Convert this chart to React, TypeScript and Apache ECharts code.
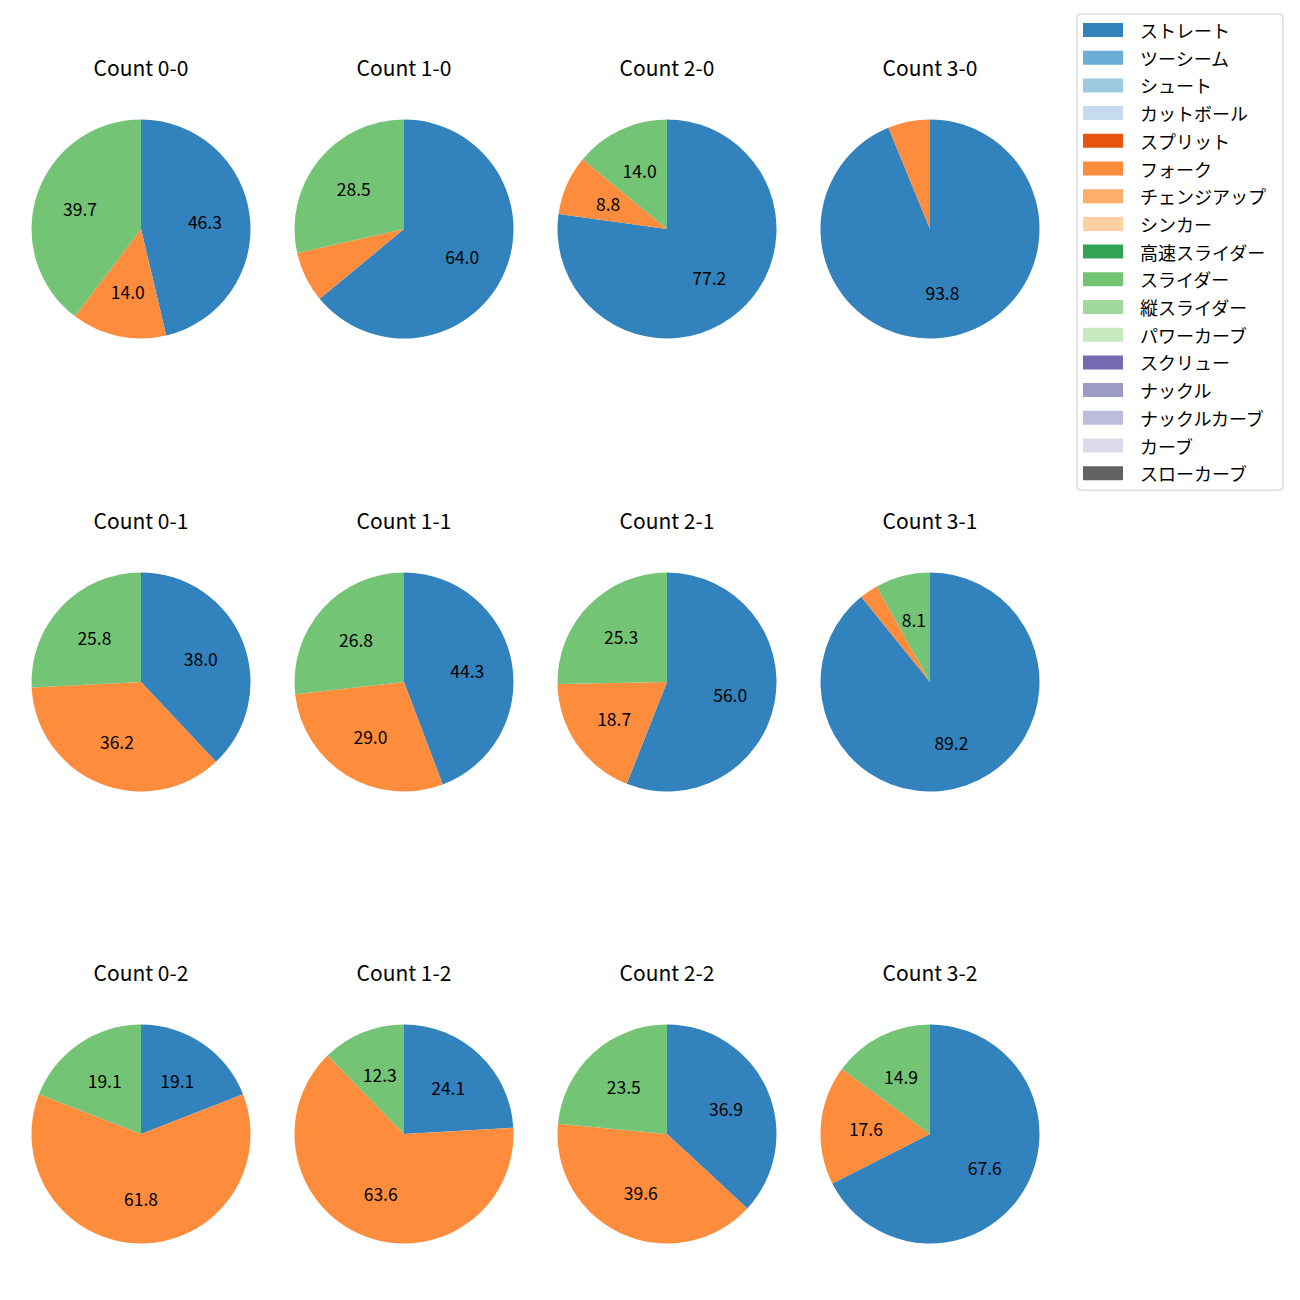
import React, { useEffect, useRef } from "react";
import * as echarts from "echarts";

const pitchTypes = [
  "ストレート", "ツーシーム", "シュート", "カットボール", "スプリット", "フォーク",
  "チェンジアップ", "シンカー", "高速スライダー", "スライダー", "縦スライダー",
  "パワーカーブ", "スクリュー", "ナックル", "ナックルカーブ", "カーブ", "スローカーブ",
];
const pitchColors = [
  "#3182bd", "#6baed6", "#9ecae1", "#c6dbef", "#e6550d", "#fd8d3c",
  "#fdae6b", "#fdd0a2", "#31a354", "#74c476", "#a1d99b", "#c7e9c0",
  "#756bb1", "#9e9ac8", "#bcbddc", "#dadaeb", "#636363",
];

// Present pitch types in each pie: ストレート, フォーク, スライダー
const shownTypes = ["ストレート", "フォーク", "スライダー"];

const countTitles = [
  "Count 0-0", "Count 1-0", "Count 2-0", "Count 3-0",
  "Count 0-1", "Count 1-1", "Count 2-1", "Count 3-1",
  "Count 0-2", "Count 1-2", "Count 2-2", "Count 3-2",
];
const straightVals = [46.3, 64.0, 77.2, 93.8, 38.0, 44.3, 56.0, 89.2, 19.1, 24.1, 36.9, 67.6];
const forkVals = [14.0, 7.5, 8.8, 6.2, 36.2, 29.0, 18.7, 2.7, 61.8, 63.6, 39.6, 17.6];
const sliderVals = [39.7, 28.5, 14.0, 0, 25.8, 26.8, 25.3, 8.1, 19.1, 12.3, 23.5, 14.9];

const FONT = "'Noto Sans CJK JP', 'DejaVu Sans', sans-serif";

export default function App() {
  const ref = useRef<HTMLDivElement>(null);
  useEffect(() => {
    document.body.style.margin = "0";
    const chart = echarts.init(ref.current!, null, { renderer: "svg" });
    const colX = [141, 404, 667, 930];
    const rowY = [229, 682, 1134];
    const titleTop = [56, 509, 961];
    const R = 109.5;
    const series: any[] = [];
    const titles: any[] = [];
    countTitles.forEach((t, i) => {
      const cx = colX[i % 4];
      const row = Math.floor(i / 4);
      const cy = rowY[row];
      const vals = [straightVals[i], forkVals[i], sliderVals[i]];
      const data = pitchTypes.map((name, k) => {
        const idx = shownTypes.indexOf(name);
        return { name, value: idx >= 0 ? vals[idx] : 0, itemStyle: { color: pitchColors[k] } };
      });
      series.push({
        type: "pie",
        center: [cx, cy],
        radius: [0, R],
        startAngle: 90,
        clockwise: true,
        data,
        label: { show: false },
        labelLine: { show: false },
        itemStyle: { borderWidth: 0 },
        emphasis: { disabled: true },
        silent: true,
      });
      series.push({
        type: "pie",
        center: [cx, cy],
        radius: [R * 0.12, R],
        startAngle: 90,
        clockwise: true,
        data: data.map((d) => ({ name: d.name, value: d.value, itemStyle: { color: "rgba(0,0,0,0)" } })),
        label: {
          show: true,
          position: "inside",
          fontFamily: FONT,
          fontSize: 17.5,
          color: "#000",
          formatter: (p: any) => (p.value >= 8 ? p.value.toFixed(1) : ""),
        },
        labelLine: { show: false },
        itemStyle: { borderWidth: 0 },
        emphasis: { disabled: true },
        silent: true,
        legendHoverLink: false,
      });
      titles.push({
        text: t,
        left: cx,
        top: titleTop[row],
        textAlign: "center",
        padding: 0,
        textStyle: { fontFamily: FONT, fontSize: 21, fontWeight: "normal", color: "#000" },
      });
    });
    chart.setOption({
      animation: false,
      title: titles,
      legend: {
        orient: "vertical",
        left: 1077,
        top: 14,
        padding: [7, 17, 8, 6],
        itemWidth: 40,
        itemHeight: 14,
        itemGap: 9.7,
        icon: "rect",
        borderColor: "#cccccc",
        borderWidth: 1,
        borderRadius: 4,
        data: pitchTypes.map((name, k) => ({ name, itemStyle: { color: pitchColors[k] } })),
        textStyle: { fontFamily: FONT, fontSize: 18, color: "#000", lineHeight: 18, padding: [0, 0, 0, 12] },
      },
      series,
    });
    return () => chart.dispose();
  }, []);
  return <div ref={ref} style={{ width: 1300, height: 1300 }} />;
}
